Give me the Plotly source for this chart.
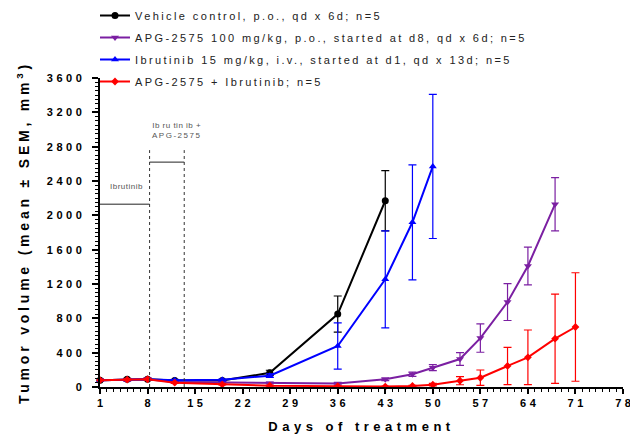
import plotly.graph_objects as go

# ---- data ----
veh_days = [1, 5, 8, 12, 19, 26, 36, 43]
veh_mean = [80, 90, 90, 75, 75, 165, 850, 2170]
veh_sem = [10, 12, 12, 8, 8, 30, 210, 350]

apg_days = [1, 5, 8, 12, 19, 26, 36, 43, 47, 50, 54, 57, 61, 64, 68]
apg_mean = [80, 85, 90, 58, 55, 45, 42, 90, 148, 225, 326, 570, 990, 1410, 2130]
apg_sem = [10, 10, 10, 8, 8, 8, 8, 15, 25, 35, 75, 165, 215, 220, 310]

ibr_days = [1, 5, 8, 12, 19, 26, 36, 43, 47, 50]
ibr_mean = [80, 85, 90, 80, 85, 132, 478, 1255, 1919, 2570]
ibr_sem = [10, 10, 10, 8, 8, 20, 270, 565, 670, 840]

combo_days = [1, 5, 8, 12, 19, 26, 36, 43, 47, 50, 54, 57, 61, 64, 68, 71]
combo_mean = [80, 85, 90, 50, 30, 15, 10, 5, 12, 27, 73, 108, 245, 346, 563, 699]
combo_sem = [10, 10, 10, 8, 6, 5, 4, 3, 8, 15, 47, 90, 217, 318, 520, 632]

x_ticks = [1, 8, 15, 22, 29, 36, 43, 50, 57, 64, 71, 78]
y_ticks = [0, 400, 800, 1200, 1600, 2000, 2400, 2800, 3200, 3600]

names = [
    "Vehicle control, p.o., qd x 6d; n=5",
    "APG-2575 100 mg/kg, p.o., started at d8, qd x 6d; n=5",
    "Ibrutinib 15 mg/kg, i.v., started at d1, qd x 13d; n=5",
    "APG-2575 + Ibrutinib; n=5",
]

# treatment period annotation
ibr_period = [1, 8.3]
ibr_level = 2130
combo_period = [8.3, 13.4]
combo_level = 2620
period_top = 2760


def sp(t, ls=2.2):
    return f'<span style="letter-spacing:{ls}px">{t}</span>'


def sp_tick(t, ls):
    t = str(t)
    if len(t) == 1:
        return f"<b>{t}</b>"
    return "<b>" + sp(t[:-1], ls) + t[-1] + "</b>"


fig = go.Figure()
series = [
    (veh_days, veh_mean, veh_sem, "#000000", "circle", 7),
    (apg_days, apg_mean, apg_sem, "#7B1FA2", "triangle-down", 7),
    (ibr_days, ibr_mean, ibr_sem, "#0000FF", "triangle-up", 7),
    (combo_days, combo_mean, combo_sem, "#FF0000", "diamond", 6),
]
for i, (d, m, s, c, sym, sz) in enumerate(series):
    fig.add_trace(go.Scatter(
        x=d, y=m, name=sp(names[i], 2.4), mode="lines+markers",
        line=dict(color=c, width=2),
        marker=dict(color=c, symbol=sym, size=sz),
        error_y=dict(type="data", array=s, visible=True, color=c, thickness=1.2, width=4),
        cliponaxis=False, legendgroup=f"g{i}",
    ))

# period lines
fig.add_shape(type="line", x0=ibr_period[0], x1=ibr_period[1], y0=ibr_level, y1=ibr_level,
              line=dict(color="#222", width=1))
fig.add_shape(type="line", x0=combo_period[0], x1=combo_period[1], y0=combo_level, y1=combo_level,
              line=dict(color="#222", width=1))
for xv in [combo_period[0], combo_period[1]]:
    fig.add_shape(type="line", x0=xv, x1=xv, y0=0, y1=period_top,
                  line=dict(color="#333", width=1, dash="dot"))
fig.add_annotation(x=4.9, y=2340, text=sp("Ibrutinib", 0.5), showarrow=False,
                   font=dict(size=8, color="#555", family="Arial"))
fig.add_annotation(x=12.3, y=2990, text=sp("Ib ru tin ib +", 0.5) + "<br>" + sp("APG-2575", 1.5),
                   showarrow=False, font=dict(size=8, color="#555", family="Arial"))

fig.update_layout(
    width=630, height=441,
    margin=dict(l=100, r=7, t=78, b=54, autoexpand=False),
    plot_bgcolor="white", paper_bgcolor="white",
    font=dict(family="Arial", color="#000"),
    legend=dict(x=(95 - 100) / 523, y=1 - 1 / 441, xref="paper", yref="container",
                xanchor="left", yanchor="top",
                font=dict(size=11, color="#222"), tracegroupgap=3,
                bgcolor="rgba(0,0,0,0)", itemwidth=30),
    showlegend=True,
)
fig.update_xaxes(
    range=[1, 78], tickvals=x_ticks, ticktext=[sp_tick(t, 3.5) for t in x_ticks],
    showline=True, linecolor="black", linewidth=2, ticks="outside", ticklen=5,
    tickwidth=2, tickcolor="black", showgrid=False, zeroline=False, automargin=False,
    tickfont=dict(size=11), ticklabeloverflow="allow",
    minor=dict(dtick=1, tick0=1, ticks="outside", ticklen=3, tickwidth=1, tickcolor="black"),
    title=dict(text="<b>" + sp("Days of treatment", 4.5) + "</b>", font=dict(size=13), standoff=14),
)
fig.update_yaxes(
    range=[0, 3600], tickvals=y_ticks, ticktext=[sp_tick(t, 3.5) for t in y_ticks],
    showline=True, linecolor="black", linewidth=2, ticks="outside", ticklen=6,
    tickwidth=2, tickcolor="black", showgrid=False, zeroline=False, automargin=False,
    tickfont=dict(size=11), ticklabelstandoff=8, ticklabeloverflow="allow",
    minor=dict(dtick=50, ticks="outside", ticklen=3, tickwidth=1, tickcolor="black"),
    title=dict(text="<b>" + sp("Tumor volume (mean ± SEM, mm<sup>3</sup>)", 3.8) + "</b>",
               font=dict(size=14), standoff=14),
)

fig.write_html("out.html", config={"displayModeBar": False},
               post_script="document.body.style.margin='0';")
